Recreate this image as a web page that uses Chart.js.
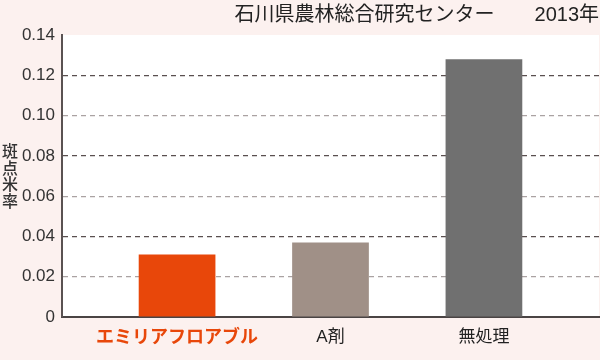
<!DOCTYPE html>
<html>
<head>
<meta charset="utf-8">
<script src="https://cdn.jsdelivr.net/npm/chart.js@4/dist/chart.umd.min.js"></script>
<style>
  html, body { margin: 0; padding: 0; background: #fcf1ef; }
</style>
</head>
<body>
<canvas id="spotChart" width="600" height="360"></canvas>
<script>
/*

SPOTTED RICE RATE BAR CHART

*/

// chart data
const categories = ['エミリアフロアブル', 'A剤', '無処理']
const spotRates = [0.031, 0.037, 0.128]
const barColors = ['#e8470a', '#a09087', '#707070']
const yLabel = ['斑', '点', '米', '率']
const chartTitle = '石川県農林総合研究センター　　2013年'

const fontFamily = "'Liberation Sans', 'Noto Sans CJK JP', sans-serif"

// bars sit on a linear x axis so the spacing matches the original
const barPoints = []
spotRates.forEach((rate, i) => {
    barPoints.push({ x: i, y: rate })
})

// pink page, white plot area, stacked axis title
const backdrop = {
    id: 'backdrop',
    beforeDraw(chart) {
        const { ctx, chartArea } = chart
        ctx.save()
        ctx.fillStyle = '#fcf1ef'
        ctx.fillRect(0, 0, chart.width, chart.height)
        ctx.fillStyle = '#ffffff'
        ctx.fillRect(chartArea.left, chartArea.top, chartArea.right - chartArea.left, chartArea.bottom - chartArea.top)
        ctx.restore()
    },
    afterDraw(chart) {
        const ctx = chart.ctx
        ctx.save()
        ctx.fillStyle = '#333333'
        ctx.font = "500 16px 'Noto Sans CJK JP', sans-serif"
        ctx.textAlign = 'center'
        ctx.textBaseline = 'middle'
        yLabel.forEach((ch, i) => {
            ctx.fillText(ch, 10, 151 + i * 16.5)
        })
        ctx.restore()
    }
}

let spotChart = new Chart(document.getElementById('spotChart').getContext('2d'), {
    type: 'bar',
    data: {
        datasets: [{
            label: '斑点米率',
            data: barPoints,
            backgroundColor: barColors,
            borderWidth: 0,
            barPercentage: 0.5,
            categoryPercentage: 1
        }]
    },
    options: {
        responsive: false,
        animation: false,
        layout: { padding: { left: 0, right: 1, top: 0, bottom: 0 } },
        plugins: {
            legend: { display: false },
            tooltip: { enabled: false },
            title: {
                display: true,
                text: chartTitle,
                align: 'end',
                color: '#222222',
                font: { family: fontFamily, size: 20, weight: 'normal', lineHeight: 1.2 },
                padding: { top: 3, bottom: 8 }
            }
        },
        scales: {
            x: {
                type: 'linear',
                offset: false,
                min: -0.75,
                max: 2.75,
                afterBuildTicks: scale => {
                    scale.ticks = categories.map((c, i) => ({ value: i }))
                },
                afterFit: scale => { scale.height = 43 },
                grid: { display: false, drawTicks: false, offset: false },
                border: { display: true, color: '#4a4444', width: 2 },
                ticks: {
                    padding: 10,
                    maxRotation: 0,
                    autoSkip: false,
                    callback: value => categories[value],
                    color: ctx => ctx.index === 0 ? '#e8470a' : '#222222',
                    font: ctx => ({
                        family: fontFamily,
                        size: ctx.index === 0 ? 18 : 17,
                        weight: ctx.index === 0 ? 'bold' : 'normal'
                    })
                }
            },
            y: {
                min: 0,
                max: 0.14,
                afterFit: scale => { scale.width = 62 },
                grid: {
                    drawTicks: false,
                    lineWidth: 1.2,
                    color: ctx => {
                        const i = ctx.index
                        if (i === 0 || i === 7) return 'rgba(0,0,0,0)'
                        return i % 2 === 0 ? '#5a4f4f' : '#aaa2a2'
                    }
                },
                border: { display: true, color: '#5a5252', width: 2, dash: [5, 4] },
                ticks: {
                    stepSize: 0.02,
                    padding: 7,
                    color: '#333333',
                    font: { family: fontFamily, size: 17 },
                    callback: value => value === 0 ? '0' : value.toFixed(2)
                }
            }
        }
    },
    plugins: [backdrop]
});
</script>
</body>
</html>
